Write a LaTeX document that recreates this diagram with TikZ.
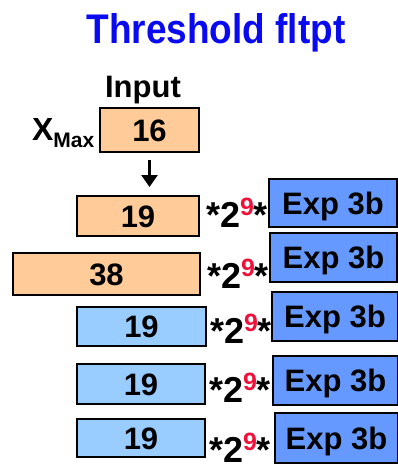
\documentclass[tikz,border=0pt]{standalone}
\usepackage{fontspec}
\setmainfont{Liberation Sans}
\usetikzlibrary{arrows.meta}

\definecolor{peach}{HTML}{FFCC99}
\definecolor{sky}{HTML}{99CCFF}
\definecolor{expblue}{HTML}{6699FF}
\definecolor{titleblue}{HTML}{0A0AF0}
\definecolor{supred}{HTML}{F0103A}

\tikzset{
	every node/.style={inner sep=0pt, outer sep=0pt},
	field/.style={draw=black, line width=2.6pt, anchor=north west,
		font=\fontsize{31}{31}\selectfont\bfseries, text height=22pt, text depth=0pt},
	scaling/.style={anchor=base west, font=\fontsize{36}{36}\selectfont\bfseries},
}
% *2^9* factor between mantissa and exponent
\newcommand{\twotonine}{*2\raisebox{12pt}{\fontsize{25}{25}\selectfont\textcolor{supred}{9}}*}

\begin{document}
\begin{tikzpicture}[x=1pt, y=-1pt]
	\useasboundingbox (0,0) rectangle (398,466);
	%title
	\node[anchor=base, font=\fontsize{37}{37}\selectfont\bfseries, text=titleblue] (title) at (216,43) {\scalebox{1}[1.12]{Threshold fltpt}};
	%input
	\node[anchor=base, font=\fontsize{31}{31}\selectfont\bfseries] (input) at (143,97) {Input};
	\node[anchor=base west, font=\bfseries] (xmax) at (32,140)
	{{\fontsize{32}{32}\selectfont X}\raisebox{-7pt}{\fontsize{21}{21}\selectfont Max}};
	\node[field, fill=peach, minimum width=99pt, minimum height=44pt] (in16) at (100,108) {16};
	%rows: mantissa, factor, exponent
	\foreach \n/\xl/\yt/\xr/\yb/\val/\col/\mx/\my/\ex/\ey/\exr/\eyb in {
		1/77/196/199/236/19/peach/206/227/269/179/397/227,
		2/13/253/200/295/38/peach/207/288/270/233/397/282,
		3/77/307/206/346/19/sky/210/343/272/292/398/341,
		4/77/364/205/404/19/sky/209/402/273/356/398/405,
		5/77/419/205/457/19/sky/209/462/275/413/398/463}
	{
		\node[field, fill=\col, minimum width={(\xr-\xl)*1pt}, minimum height={(\yb-\yt)*1pt}] (row\n) at (\xl,\yt) {\val};
		\node[scaling] (mul\n) at (\mx,\my) {\twotonine};
		\node[field, fill=expblue, minimum width={(\exr-\ex)*1pt}, minimum height={(\eyb-\ey)*1pt}] (exp\n) at (\ex,\ey) {Exp 3b};
	}
	%arrow
	\draw[line width=2.6pt, -{Triangle[length=12pt, width=16pt]}, shorten <=8pt, shorten >=9pt]
	(in16.south) -- (in16.south |- row1.north);
\end{tikzpicture}
\end{document}
